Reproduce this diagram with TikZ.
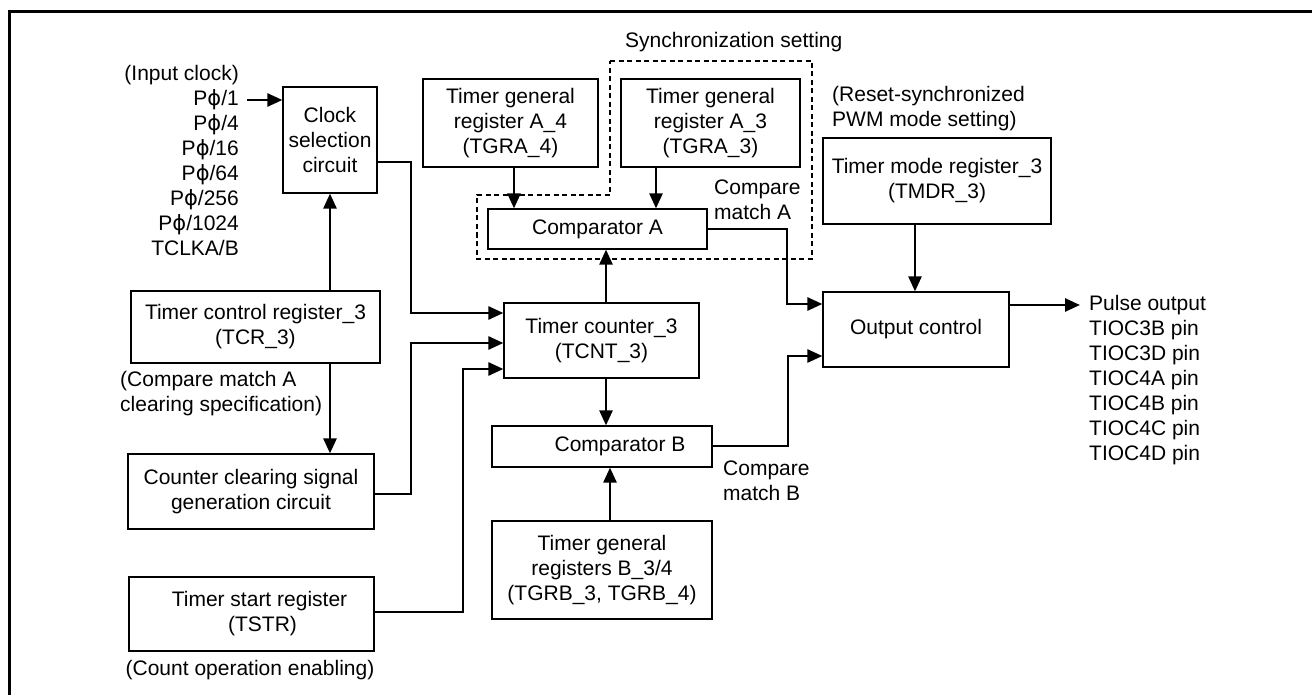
\documentclass[tikz,border=0pt]{standalone}
\usepackage{fontspec}
\setmainfont{Liberation Sans}
\newfontfamily\grkfont{DejaVu Sans}
\usetikzlibrary{arrows.meta}
\newcommand{\Pphi}{P{\grkfont ϕ}}

\begin{document}
\begin{tikzpicture}[x=1pt,y=1pt,yscale=-1,
		font=\fontsize{21}{25}\selectfont,
		blk/.style={draw, line width=1.2pt, inner sep=0pt, align=center},
		note/.style={inner sep=0pt},
		wire/.style={line width=2.6pt},
		sig/.style={wire, -{Triangle[length=15pt,width=13pt]}},
		syncline/.style={line width=2.4pt, dash pattern=on 5pt off 3.5pt},
		frameline/.style={line width=3pt}]
			\useasboundingbox (0,0) rectangle (1312,695);

			%Frame
			\draw[frameline] (1312,12) -- (9,12) -- (9,695);

			% Clock side
			\node[note, align=right, anchor=east] (clksrc) at (239,160) {(Input clock)\\\Pphi/1\\\Pphi/4\\\Pphi/16\\\Pphi/64\\\Pphi/256\\\Pphi/1024\\TCLKA/B};
			\node[blk, minimum width=94, minimum height=106] (clk) at (330,140) {Clock\\selection\\circuit};
			\node[blk, minimum width=249, minimum height=72] (tcr) at (255.5,327) {Timer control register\_3\\(TCR\_3)};
			\node[note, align=left, anchor=west] (clrnote) at (120,394) {(Compare match A\\clearing specification)};
			\node[blk, minimum width=246, minimum height=75] (ccsg) at (251,491.5) {Counter clearing signal\\generation circuit};
			\node[blk, minimum width=245, minimum height=74] (tstr) at (251.5,614) {\hspace*{16pt}Timer start register\\\hspace*{22pt}(TSTR)};
			\node[note] (enbnote) at (250,670) {(Count operation enabling)};

			% Compare side
			\node[note, anchor=west] (synnote) at (625,42) {Synchronization setting};
			\node[blk, minimum width=175, minimum height=88] (tgra4) at (510.5,123) {Timer general\\register A\_4\\(TGRA\_4)};
			\node[blk, minimum width=179, minimum height=88] (tgra3) at (710.5,123) {Timer general\\register A\_3\\(TGRA\_3)};
			\node[blk, minimum width=219, minimum height=40] (cmpa) at (597.5,229) {Comparator A};
			\node[note, align=left, anchor=west] (cmanote) at (714,200) {Compare\\match A};
			\node[blk, minimum width=195, minimum height=75] (tcnt) at (601.5,340.5) {Timer counter\_3\\(TCNT\_3)};
			\node[blk, minimum width=220, minimum height=41] (cmpb) at (602,446.5) {\hspace*{36pt}Comparator B};
			\node[note, align=left, anchor=west] (cmbnote) at (723,480.5) {Compare\\match B};
			\node[blk, minimum width=220, minimum height=98] (tgrb) at (602,570) {Timer general\\registers B\_3/4\\(TGRB\_3, TGRB\_4)};

			% Output side
			\node[note, align=left, anchor=west] (pwmnote) at (832,109) {(Reset-synchronized\\PWM mode setting)};
			\node[blk, minimum width=228, minimum height=86] (tmdr) at (937,181) {Timer mode register\_3\\(TMDR\_3)};
			\node[blk, minimum width=186, minimum height=75] (outc) at (916,329.5) {Output control};
			\coordinate (pout) at (1080,305);
			\node[note, align=left, anchor=west] (pins) at (1089,380.5) {Pulse output\\TIOC3B pin\\TIOC3D pin\\TIOC4A pin\\TIOC4B pin\\TIOC4C pin\\TIOC4D pin};

			%Sync setting outline
			\draw[syncline] (610,61) -- (812,61) -- (812,259) -- (477,259) -- (477,195) -- (610,195) -- cycle;

			%Connectors
			\draw[sig, shorten <=8pt] (clksrc.east |- 0,100) -- (clk.west |- 0,100);
			\draw[sig] (clk.south |- tcr.north) -- (clk.south);
			\draw[sig] (tcr.south -| clk.south) -- (ccsg.north -| clk.south);
			\draw[sig] (clk.east |- 0,162) -| (411,313) -- (tcnt.west |- 0,313);
			\draw[sig] (ccsg.east |- 0,494) -| (411,343) -- (tcnt.west |- 0,343);
			\draw[sig] (tstr.east |- 0,612) -| (463,369) -- (tcnt.west |- 0,369);
			\draw[sig] (tcnt.north -| 606,0) -- (cmpa.south -| 606,0);
			\draw[sig] (tcnt.south -| 606,0) -- (cmpb.north -| 606,0);
			\draw[sig] (tgrb.north -| 610,0) -- (cmpb.south -| 610,0);
			\draw[sig] (tgra4.south -| 514,0) -- (cmpa.north -| 514,0);
			\draw[sig] (tgra3.south -| 656,0) -- (cmpa.north -| 656,0);
			\draw[sig] (cmpa.east |- 0,229) -| (787,304) -- (outc.west |- 0,304);
			\draw[sig] (cmpb.east |- 0,446) -| (788,356) -- (outc.west |- 0,356);
			\draw[sig] (tmdr.south -| 915,0) -- (outc.north -| 915,0);
			\draw[sig] (outc.east |- 0,305) -- (pout);

		\end{tikzpicture}
\end{document}
